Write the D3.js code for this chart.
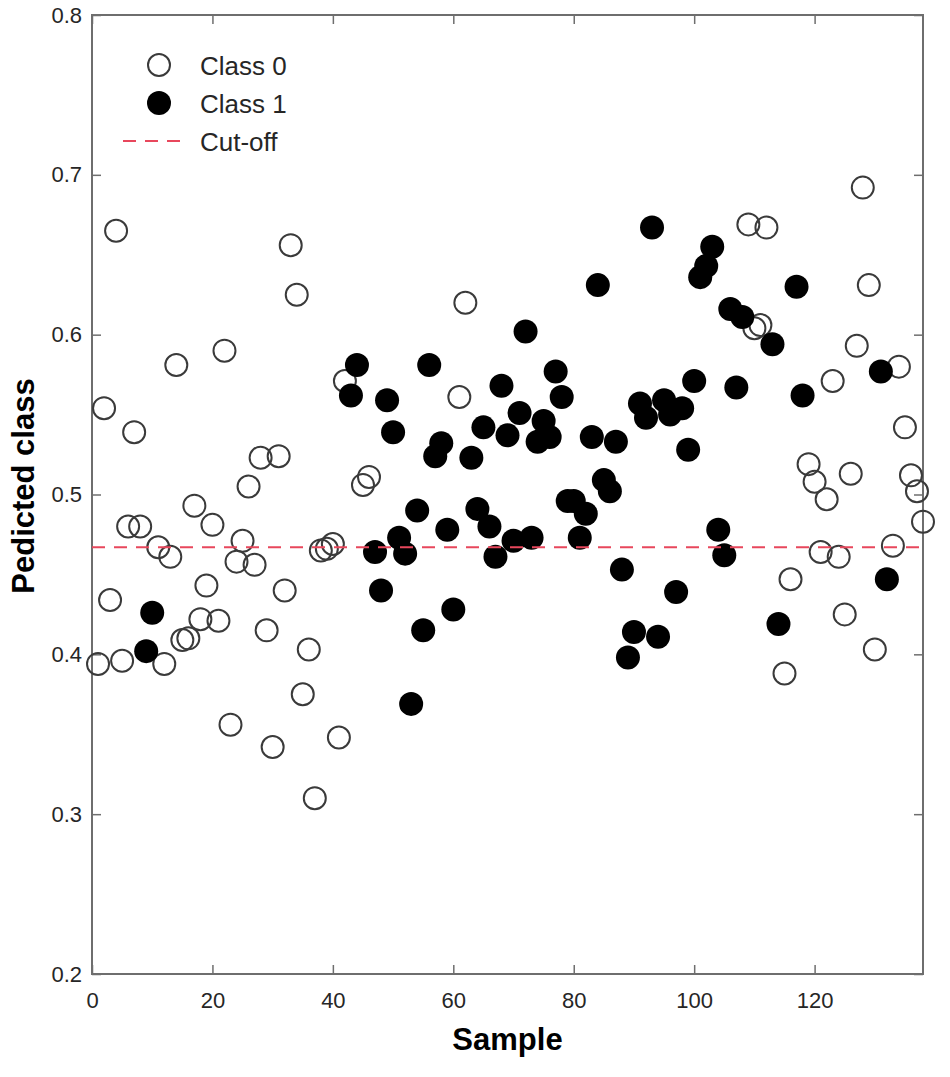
<!DOCTYPE html>
<html>
<head>
<meta charset="utf-8">
<script src="https://cdn.jsdelivr.net/npm/d3@7"></script>
<style>
  body { margin: 0; background: #fff; }
  text { font-family: "Liberation Sans", Arial, Helvetica, sans-serif; }
</style>
</head>
<body>
<div id="chart"></div>
<script>
// sample number and predicted value, class 0 (open markers)
const class0Samples = [1, 2, 3, 4, 5, 6, 7, 8, 11, 12, 13, 14, 15, 16, 17, 18, 19, 20, 21, 22,
  23, 24, 25, 26, 27, 28, 29, 30, 31, 32, 33, 34, 35, 36, 37, 38, 39, 40, 41, 42, 45, 46, 61, 62,
  109, 110, 111, 112, 115, 116, 119, 120, 121, 122, 123, 124, 125, 126, 127, 128, 129, 130,
  133, 134, 135, 136, 137, 138];
const class0Values = [0.394, 0.554, 0.434, 0.665, 0.396, 0.480, 0.539, 0.480, 0.467, 0.394,
  0.461, 0.581, 0.409, 0.410, 0.493, 0.422, 0.443, 0.481, 0.421, 0.590,
  0.356, 0.458, 0.471, 0.505, 0.456, 0.523, 0.415, 0.342, 0.524, 0.440,
  0.656, 0.625, 0.375, 0.403, 0.310, 0.465, 0.466, 0.469, 0.348, 0.571,
  0.506, 0.511, 0.561, 0.620,
  0.669, 0.604, 0.606, 0.667, 0.388, 0.447, 0.519, 0.508, 0.464, 0.497,
  0.571, 0.461, 0.425, 0.513, 0.593, 0.692, 0.631, 0.403,
  0.468, 0.580, 0.542, 0.512, 0.502, 0.483];

// class 1 (filled markers)
const class1Samples = [9, 10, 43, 44, 47, 48, 49, 50, 51, 52, 53, 54, 55, 56, 57, 58, 59, 60,
  63, 64, 65, 66, 67, 68, 69, 70, 71, 72, 73, 74, 75, 76, 77, 78, 79, 80, 81, 82, 83, 84, 85,
  86, 87, 88, 89, 90, 91, 92, 93, 94, 95, 96, 97, 98, 99, 100, 101, 102, 103, 104, 105, 106,
  107, 108, 113, 114, 117, 118, 131, 132];
const class1Values = [0.402, 0.426, 0.562, 0.581, 0.464, 0.440, 0.559, 0.539, 0.473, 0.463,
  0.369, 0.490, 0.415, 0.581, 0.524, 0.532, 0.478, 0.428,
  0.523, 0.491, 0.542, 0.480, 0.461, 0.568, 0.537, 0.471, 0.551, 0.602, 0.473, 0.533,
  0.546, 0.536, 0.577, 0.561, 0.496, 0.496, 0.473, 0.488, 0.536, 0.631, 0.509,
  0.502, 0.533, 0.453, 0.398, 0.414, 0.557, 0.548, 0.667, 0.411, 0.559, 0.550,
  0.439, 0.554, 0.528, 0.571, 0.636, 0.643, 0.655, 0.478, 0.462, 0.616,
  0.567, 0.611, 0.594, 0.419, 0.630, 0.562, 0.577, 0.447];

const cutOff = 0.467;

const xTicks = [0, 20, 40, 60, 80, 100, 120];
const yTicks = [0.2, 0.3, 0.4, 0.5, 0.6, 0.7, 0.8];
const legendLabels = ["Class 0", "Class 1", "Cut-off"];

const width = 950;
const height = 1077;
const margin = { top: 15, right: 27, bottom: 103, left: 92 };
const innerW = width - margin.left - margin.right;
const innerH = height - margin.top - margin.bottom;
const axisColor = "#6e6e6e";
const textColor = "#262626";
const r = 11;

const svg = d3.select("#chart")
  .append("svg")
  .attr("width", width)
  .attr("height", height);

const g = svg.append("g")
  .attr("transform", `translate(${margin.left},${margin.top})`);

const x = d3.scaleLinear().domain([0, 138]).range([0, innerW]);
const y = d3.scaleLinear().domain([0.2, 0.8]).range([innerH, 0]);

// axes with inward ticks, box on all four sides
function styleAxis(sel) {
  sel.select(".domain").remove();
  sel.selectAll(".tick line").attr("stroke", axisColor).attr("stroke-width", 1.5);
  sel.selectAll(".tick text")
    .attr("fill", textColor)
    .style("font-size", "22px");
}

g.append("g")
  .attr("transform", `translate(0,${innerH})`)
  .call(d3.axisBottom(x).tickValues(xTicks).tickSize(-9).tickSizeOuter(0).tickPadding(18))
  .call(styleAxis);

g.append("g")
  .call(d3.axisTop(x).tickValues(xTicks).tickSize(-9).tickSizeOuter(0).tickFormat(""))
  .call(styleAxis);

g.append("g")
  .call(d3.axisLeft(y).tickValues(yTicks).tickSize(-9).tickSizeOuter(0).tickPadding(10)
    .tickFormat(d3.format(".1f")))
  .call(styleAxis);

g.append("g")
  .attr("transform", `translate(${innerW},0)`)
  .call(d3.axisRight(y).tickValues(yTicks).tickSize(-9).tickSizeOuter(0).tickFormat(""))
  .call(styleAxis);

g.append("rect")
  .attr("width", innerW)
  .attr("height", innerH)
  .attr("fill", "none")
  .attr("stroke", axisColor)
  .attr("stroke-width", 2);

// markers
const class0 = class0Samples.map((s, i) => ({ s, v: class0Values[i] }));
const class1 = class1Samples.map((s, i) => ({ s, v: class1Values[i] }));

g.append("g").selectAll("circle")
  .data(class0)
  .join("circle")
  .attr("cx", d => x(d.s))
  .attr("cy", d => y(d.v))
  .attr("r", r)
  .attr("fill", "none")
  .attr("stroke", "#3a3a3a")
  .attr("stroke-width", 2);

g.append("g").selectAll("circle")
  .data(class1)
  .join("circle")
  .attr("cx", d => x(d.s))
  .attr("cy", d => y(d.v))
  .attr("r", r + 1)
  .attr("fill", "#000");

// cut-off line
g.append("line")
  .attr("x1", 0)
  .attr("x2", innerW)
  .attr("y1", y(cutOff))
  .attr("y2", y(cutOff))
  .attr("stroke", "#e8475c")
  .attr("stroke-width", 2)
  .attr("stroke-dasharray", "13,9");

// legend
const legend = svg.append("g");
const rowY = [65, 103, 141];

legend.append("circle")
  .attr("cx", 159).attr("cy", rowY[0]).attr("r", r)
  .attr("fill", "none").attr("stroke", "#3a3a3a").attr("stroke-width", 2);
legend.append("circle")
  .attr("cx", 159).attr("cy", rowY[1]).attr("r", r + 1)
  .attr("fill", "#000");
legend.append("line")
  .attr("x1", 123).attr("x2", 185)
  .attr("y1", rowY[2]).attr("y2", rowY[2])
  .attr("stroke", "#e8475c").attr("stroke-width", 2)
  .attr("stroke-dasharray", "13,9");

legend.selectAll("text")
  .data(legendLabels)
  .join("text")
  .attr("x", 200)
  .attr("y", (d, i) => rowY[i] + 10)
  .attr("fill", textColor)
  .style("font-size", "26px")
  .text(d => d);

// axis titles
svg.append("text")
  .attr("x", margin.left + innerW / 2)
  .attr("y", 1050)
  .attr("text-anchor", "middle")
  .attr("fill", "#000")
  .style("font-size", "31px")
  .style("font-weight", "bold")
  .text("Sample");

svg.append("text")
  .attr("transform", "translate(34,486) rotate(-90)")
  .attr("text-anchor", "middle")
  .attr("fill", "#000")
  .style("font-size", "31px")
  .style("font-weight", "bold")
  .text("Pedicted class");
</script>
</body>
</html>
